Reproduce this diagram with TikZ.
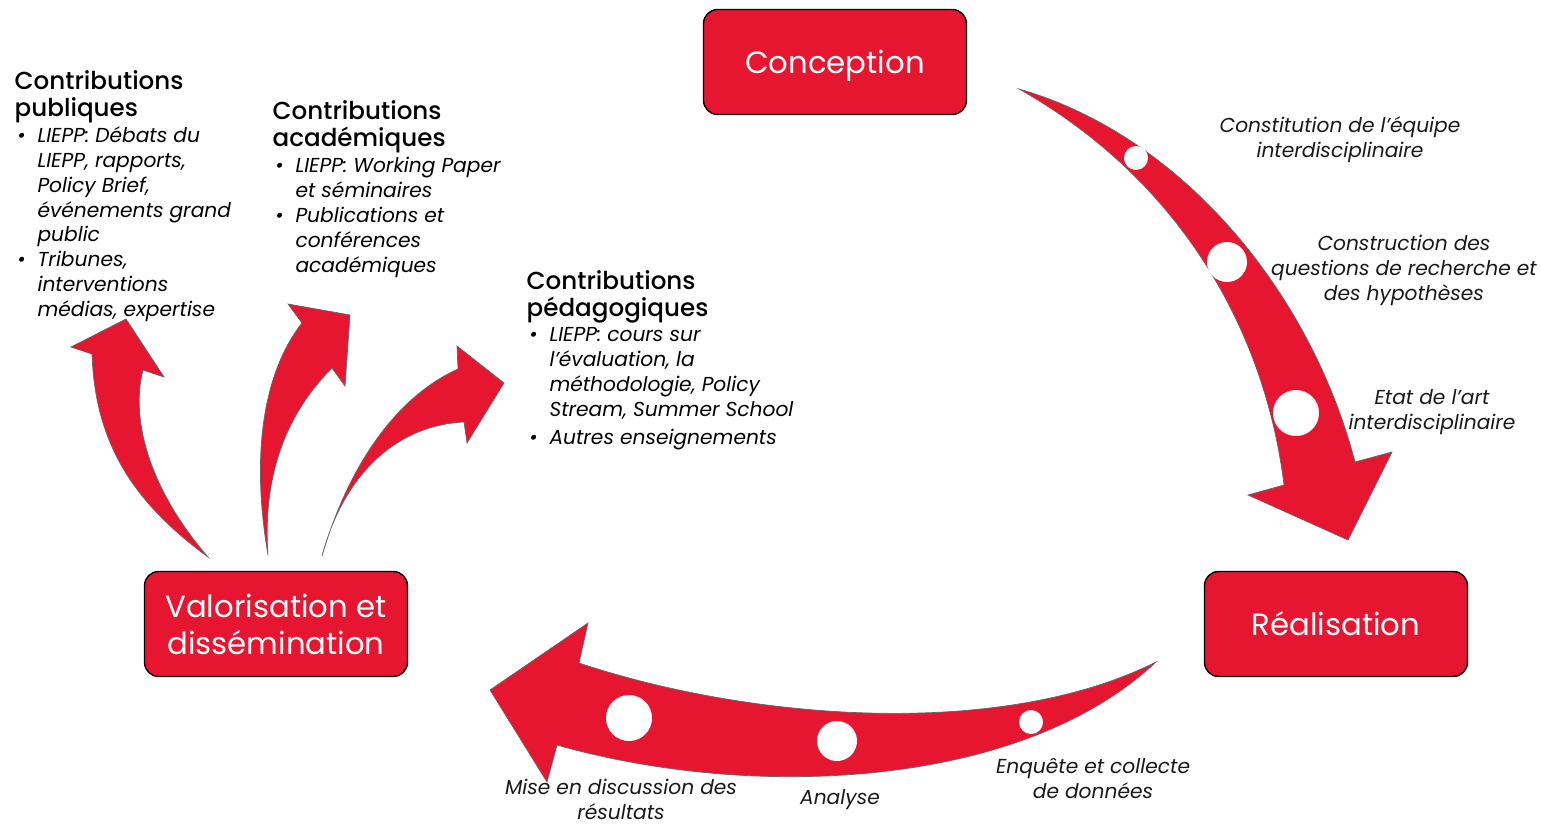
\documentclass[tikz,border=0pt]{standalone}
\usepackage{fontspec}
\setmainfont{Poppins}
\newfontfamily\titre{Poppins Medium}
\usetikzlibrary{positioning}
\definecolor{rouge}{RGB}{230,22,48}

\newcommand{\puce}{\makebox[13pt][l]{\hspace{1.5pt}\textbullet}}
\newcommand{\suite}{\hspace*{13pt}}

\begin{document}
\begin{tikzpicture}[x=0.02cm, y=-0.02cm, thick,
    etape/.style = {draw, fill=rouge, rounded corners=8pt, minimum width=5.26cm, minimum height=2.1cm, text=white, align=center, font=\fontsize{17.5}{21}\selectfont},
    fleche/.style = {fill=rouge, draw=black!60, thin},
    trou/.style = {fill=white},
    etiq/.style = {align=center, text=black!90, font=\itshape\fontsize{11.5}{14.2}\selectfont},
    titre/.style = {align=left, anchor=north west, inner sep=0pt, font=\titre\fontsize{14}{15.3}\selectfont},
    liste/.style = {align=left, anchor=north west, inner sep=0pt, font=\itshape\fontsize{11.5}{14.2}\selectfont}]
    \useasboundingbox (0,0) rectangle (1541,824);

    % les trois etapes
    \node[etape, text depth=0pt] (conc) at (835,62) {Conception};
    \node[etape] (real) at (1336,624) {Réalisation};
    \node[etape] (valo) at (276,624) {Valorisation et\\dissémination};

    % fleche conception -> realisation
    \draw[fleche] (1019,89) .. controls (1180,135) and (1310,290) .. (1355,462) -- (1392,452) -- (1348,540) -- (1248,495) -- (1284,485) .. controls (1265,330) and (1180,180) .. (1019,89) -- cycle;
    \fill[trou] (1136,158) circle (12);
    \fill[trou] (1227,262) circle (20);
    \fill[trou] (1296,413) circle (23);

    % fleche realisation -> valorisation
    \draw[fleche] (1156,662) .. controls (1000,740) and (750,720) .. (579,663) -- (588,623) -- (490,690) -- (547,782) -- (557,745) .. controls (750,800) and (1020,790) .. (1156,662) -- cycle;
    \fill[trou] (629,718) circle (23);
    \fill[trou] (837,741) circle (20);
    \fill[trou] (1031,722) circle (12);

    % fleches de valorisation
    \draw[fleche] (208,557) .. controls (150,490) and (130,420) .. (143,370) -- (164,377) -- (126,319) -- (71,347) -- (92,354) .. controls (95,440) and (130,500) .. (208,557) -- cycle;
    \draw[fleche] (268,555) .. controls (250,450) and (265,370) .. (302,323) -- (288,304) -- (350,315) -- (345,386) -- (332,368) .. controls (290,410) and (262,470) .. (268,555) -- cycle;
    \draw[fleche] (322,556) .. controls (350,460) and (400,395) .. (458,369) -- (457,346) -- (504,383) -- (467,443) -- (464,422) .. controls (400,425) and (345,470) .. (322,556) -- cycle;

    % etiquettes du cycle
    \node[etiq] (equipe) at (1340,140) {Constitution de l'équipe\\interdisciplinaire};
    \node[etiq] (questions) at (1404,270) {Construction des\\questions de recherche et\\des hypothèses};
    \node[etiq] (etat) at (1432,412) {Etat de l'art\\interdisciplinaire};
    \node[etiq] (enquete) at (1093,778) {Enquête et collecte\\de données};
    \node[etiq] (analyse) at (840,800) {Analyse};
    \node[etiq] (discussion) at (621,799) {Mise en discussion des\\résultats};

    % contributions
    \node[titre] (pubT) at (14,70) {Contributions\\publiques};
    \node[liste] (pubL) [below=0.04cm of pubT.south west, anchor=north west] {\puce LIEPP: Débats du\\\suite LIEPP, rapports,\\\suite Policy Brief,\\\suite événements grand\\\suite public\\\puce Tribunes,\\\suite interventions\\\suite médias, expertise};
    \node[titre] (acaT) at (272,100) {Contributions\\académiques};
    \node[liste] (acaL) [below=0.06cm of acaT.south west, anchor=north west] {\puce LIEPP: Working Paper\\\suite et séminaires\\\puce Publications et\\\suite conférences\\\suite académiques};
    \node[titre] (pedT) at (526,270) {Contributions\\pédagogiques};
    \node[liste] (pedL) [below=0.06cm of pedT.south west, anchor=north west] {\puce LIEPP: cours sur\\\suite l'évaluation, la\\\suite méthodologie, Policy\\\suite Stream, Summer School\\[1.7pt]\puce Autres enseignements};
\end{tikzpicture}
\end{document}
